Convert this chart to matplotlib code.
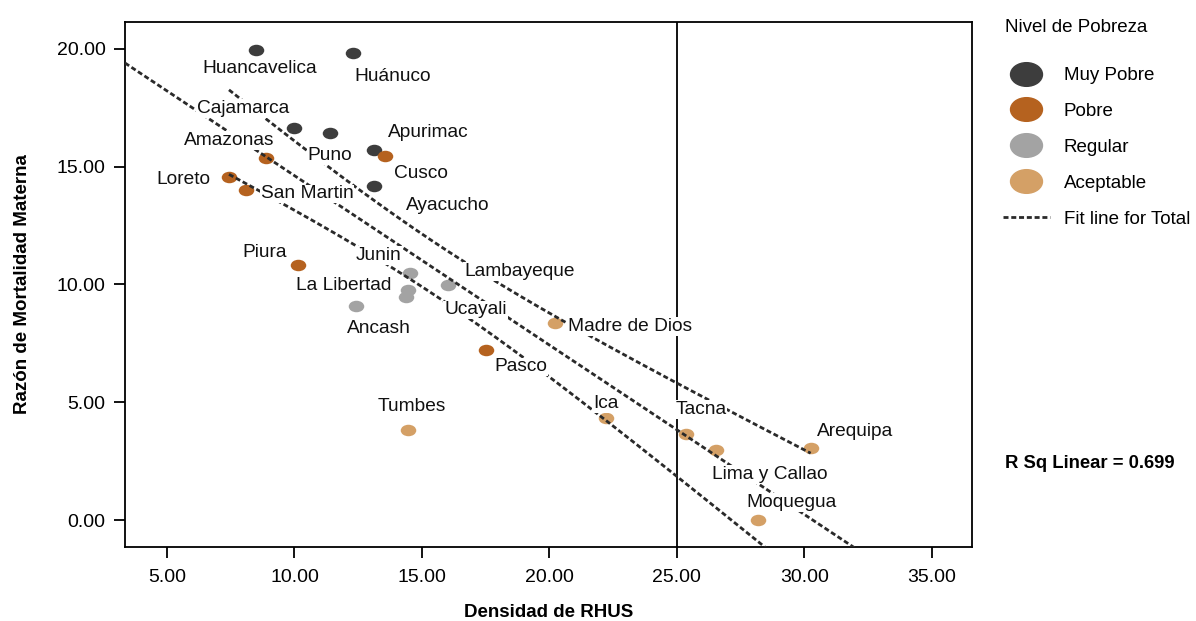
import numpy as np
import matplotlib.pyplot as plt
from matplotlib.path import Path
from matplotlib.transforms import Affine2D
from matplotlib.lines import Line2D

plt.rcParams['font.family'] = ['Liberation Sans', 'DejaVu Sans']

# data
departamentos = ['Huancavelica', 'Huánuco', 'Cajamarca', 'Puno', 'Apurimac', 'Ayacucho',
                 'Amazonas', 'Cusco', 'Loreto', 'San Martin', 'Piura', 'Pasco',
                 'Junin', 'Lambayeque', 'La Libertad', 'Ucayali', 'Ancash',
                 'Madre de Dios', 'Tumbes', 'Ica', 'Tacna', 'Lima y Callao',
                 'Arequipa', 'Moquegua']
densidad = [8.49, 12.29, 10.00, 11.39, 13.12, 13.12,
            8.88, 13.55, 7.43, 8.10, 10.14, 17.51,
            14.53, 16.03, 14.47, 14.39, 12.41,
            20.22, 14.45, 22.22, 25.35, 26.53, 30.25, 28.20]
mortalidad = [19.96, 19.83, 16.65, 16.43, 15.71, 14.18,
              15.37, 15.46, 14.56, 14.01, 10.83, 7.22,
              10.48, 9.98, 9.77, 9.47, 9.09,
              8.37, 3.82, 4.33, 3.65, 2.97, 3.06, 0.00]
nivel = ['Muy Pobre'] * 6 + ['Pobre'] * 6 + ['Regular'] * 5 + ['Aceptable'] * 7
niveles = ['Muy Pobre', 'Pobre', 'Regular', 'Aceptable']
colores = {'Muy Pobre': '#3d3d3d', 'Pobre': '#b5621f',
           'Regular': '#a3a3a3', 'Aceptable': '#d4a066'}
r_sq = 0.699  # as printed on the chart

# label offsets from each point, in pixels (x right, y up)
offsets = {'Huancavelica': (4, -19), 'Huánuco': (40, -24), 'Cajamarca': (-51, 19),
           'Puno': (0, -23), 'Apurimac': (54, 17), 'Cusco': (36, -18),
           'Ayacucho': (74, -20), 'Amazonas': (-37, 17), 'Loreto': (-46, -2),
           'San Martin': (61, -4), 'Piura': (-33, 12), 'Pasco': (35, -17),
           'Junin': (-31, 18), 'Lambayeque': (71, 13), 'La Libertad': (-65, 4),
           'Ucayali': (69, -13), 'Ancash': (23, -23), 'Madre de Dios': (75, -4),
           'Tumbes': (4, 24), 'Ica': (0, 15), 'Tacna': (15, 25),
           'Lima y Callao': (54, -24), 'Arequipa': (44, 17), 'Moquegua': (33, 18)}

x = np.array(densidad)
y = np.array(mortalidad)

# linear fit + confidence band for the mean
b, a = np.polyfit(x, y, 1)
n = len(x)
resid = y - (a + b * x)
s = np.sqrt(np.sum(resid ** 2) / (n - 2))
sxx = np.sum((x - x.mean()) ** 2)
t_crit = 1.717

ellipse = Affine2D().scale(1.35, 1.0).transform_path(Path.unit_circle())

fig = plt.figure(figsize=(11.96, 6.21), dpi=100)
ax = fig.add_axes([0.1045, 0.1192, 0.708, 0.8454])

for nv in niveles:
    idx = [i for i, v in enumerate(nivel) if v == nv]
    ax.scatter(x[idx], y[idx], s=125, marker=ellipse, color=colores[nv],
               linewidths=0, zorder=2)

xlim = (3.35, 36.57)
ylim = (-1.14, 21.14)
dash = dict(color='#2a2a2a', lw=2.0, dashes=(1.8, 1.0), zorder=3)
xf = np.linspace(xlim[0], xlim[1], 200)
ax.plot(xf, a + b * xf, **dash)
xb = np.linspace(x.min(), x.max(), 200)
half = t_crit * s * np.sqrt(1 / n + (xb - x.mean()) ** 2 / sxx)
ax.plot(xb, a + b * xb + half, **dash)
ax.plot(xb, a + b * xb - half, **dash)

ax.axvline(25, color='black', lw=1.3, zorder=2.5)

for name, xi, yi in zip(departamentos, x, y):
    ax.annotate(name, (xi, yi), xytext=offsets[name], textcoords='offset pixels',
                ha='center', va='center', fontsize=13.8, zorder=4, color='#111111',
                bbox=dict(boxstyle='square,pad=0.05', fc='white', ec='none'))

ax.set_xlim(xlim)
ax.set_ylim(ylim)
ax.set_xticks([5, 10, 15, 20, 25, 30, 35])
ax.set_yticks([0, 5, 10, 15, 20])
ax.xaxis.set_major_formatter(lambda v, p: f'{v:.2f}')
ax.yaxis.set_major_formatter(lambda v, p: f'{v:.2f}')
ax.tick_params(direction='out', length=8, width=1.3, labelsize=14)
ax.tick_params(axis='x', pad=7.5)
ax.tick_params(axis='y', pad=6)
for sp in ax.spines.values():
    sp.set_linewidth(1.3)

ax.set_xlabel('Densidad de RHUS', fontsize=13.5, fontweight='bold', labelpad=13)
ax.set_ylabel('Razón de Mortalidad Materna', fontsize=13.5, fontweight='bold',
              labelpad=18.5)

handles = [Line2D([], [], ls='none', marker=ellipse, ms=23, color=colores[nv])
           for nv in niveles]
handles.append(Line2D([], [], color='#2a2a2a', lw=2.0, dashes=(1.8, 1.0)))
fig.text(1005 / 1196, 1 - 27 / 621, 'Nivel de Pobreza', fontsize=13.5, va='center')
fig.legend(handles, niveles + ['Fit line for Total'],
           loc='upper left', bbox_to_anchor=(1003 / 1196, 1 - 67 / 621),
           frameon=False, fontsize=13.5, labelspacing=1.0,
           handlelength=2.5, handletextpad=0.75, borderpad=0, borderaxespad=0)

fig.text(1005 / 1196, 1 - 463 / 621, f'R Sq Linear = {r_sq:.3f}', fontsize=13.3,
         fontweight='bold', va='center')

fig.savefig('out.png', dpi=100)
